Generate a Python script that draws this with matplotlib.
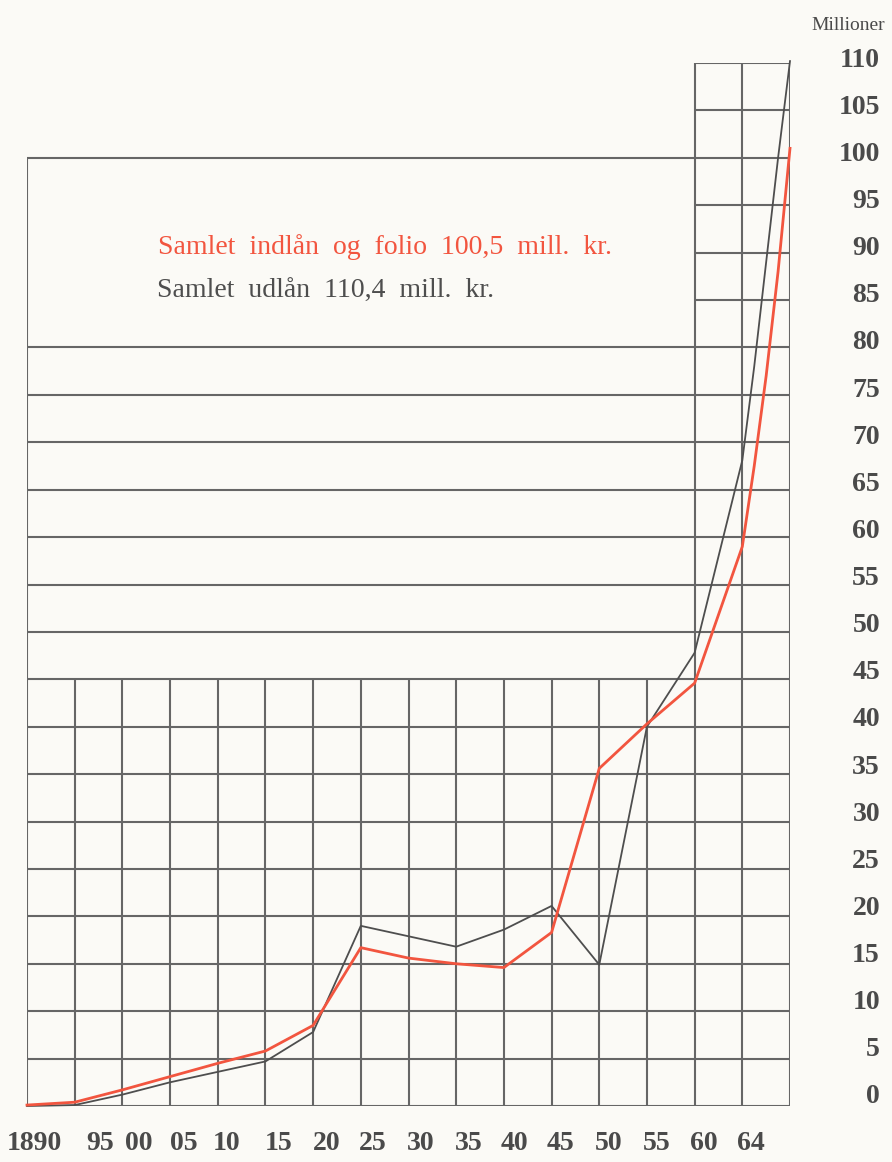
import numpy as np
import matplotlib.pyplot as plt
from matplotlib import transforms

plt.rcParams['font.family'] = ['Liberation Serif', 'DejaVu Serif']

bg = '#fbfaf6'
grid_color = '#666666'
red = '#f2553f'
dark = '#4e4e4e'
text_color = '#4a4a4a'

# kolonner: 5-aars intervaller, sidste kolonne (1960-64) aar for aar
kolonne = [0, 1, 2, 3, 4, 5, 6, 7, 8, 9, 10, 11, 12, 13, 14, 15, 15.25, 15.5, 15.75, 16]
indlaan = [0.1, 0.4, 1.7, 3.1, 4.5, 5.8, 8.5, 16.7, 15.6, 15.0, 14.6, 18.3, 35.6, 40.3,
           44.6, 59.0, 67.5, 77.0, 88.0, 101.0]
udlaan = [0.0, 0.1, 1.2, 2.5, 3.6, 4.7, 7.8, 19.0, 17.9, 16.8, 18.6, 21.1, 14.9, 40.0,
          47.8, 68.1, 78.0, 89.0, 100.0, 110.2]

aar_labels = ['1890', '95', '00', '05', '10', '15', '20', '25', '30', '35', '40', '45',
              '50', '55', '60', '64']
aar_pos = [0.15, 1.53, 2.35, 3.29, 4.19, 5.28, 6.29, 7.26, 8.26, 9.27, 10.23, 11.18,
           12.2, 13.21, 14.2, 15.18]
y_ticks = list(range(0, 111, 5))

fig = plt.figure(figsize=(8.92, 11.62), dpi=100)
fig.patch.set_facecolor(bg)
ax = fig.add_axes([27 / 892, 56 / 1162, 763 / 892, 1043 / 1162])
ax.set_facecolor(bg)
ax.set_xlim(0, 16)
ax.set_ylim(0, 110)
ax.axis('off')

# rutenet
lw = 1.5
for v in list(range(0, 81, 5)) + [100]:
    ax.hlines(v, 0, 16, color=grid_color, lw=lw, zorder=1)
for v in [85, 90, 95, 105, 110]:
    ax.hlines(v, 14, 16, color=grid_color, lw=lw, zorder=1)
ax.vlines(0, 0, 100, color=grid_color, lw=lw, zorder=1)
ax.vlines(range(1, 14), 0, 45, color=grid_color, lw=lw, zorder=1)
ax.vlines([14, 15, 16], 0, 110, color=grid_color, lw=lw, zorder=1)

# kurver
ax.plot(kolonne, udlaan, color=dark, lw=1.3, zorder=3, clip_on=False)
ax.plot(kolonne, indlaan, color=red, lw=2.0, zorder=4, clip_on=False)

ax.text(2.75, 89.9, 'Samlet  indlån  og  folio  100,5  mill.  kr.', color=red,
        fontsize=20, va='baseline', ha='left')
ax.text(2.73, 85.2, 'Samlet  udlån  110,4  mill.  kr.', color=dark,
        fontsize=20, va='baseline', ha='left')

# akser
trans_y = transforms.blended_transform_factory(fig.transFigure, ax.transData)
for v in y_ticks:
    ax.text(880 / 892, 0.95 + 0.994 * v, str(v), transform=trans_y, ha='right',
            va='center', fontsize=20, color=text_color, fontweight='bold')
fig.text(885 / 892, 1 - 30 / 1162, 'Millioner', ha='right', va='baseline',
         fontsize=14, color=text_color)

trans_x = transforms.blended_transform_factory(ax.transData, fig.transFigure)
for p, lab in zip(aar_pos, aar_labels):
    ax.text(p, 1 - 1143 / 1162, lab, transform=trans_x, ha='center', va='center',
            fontsize=20, color=text_color, fontweight='bold')

plt.savefig('out.png', dpi=100, facecolor=bg)
